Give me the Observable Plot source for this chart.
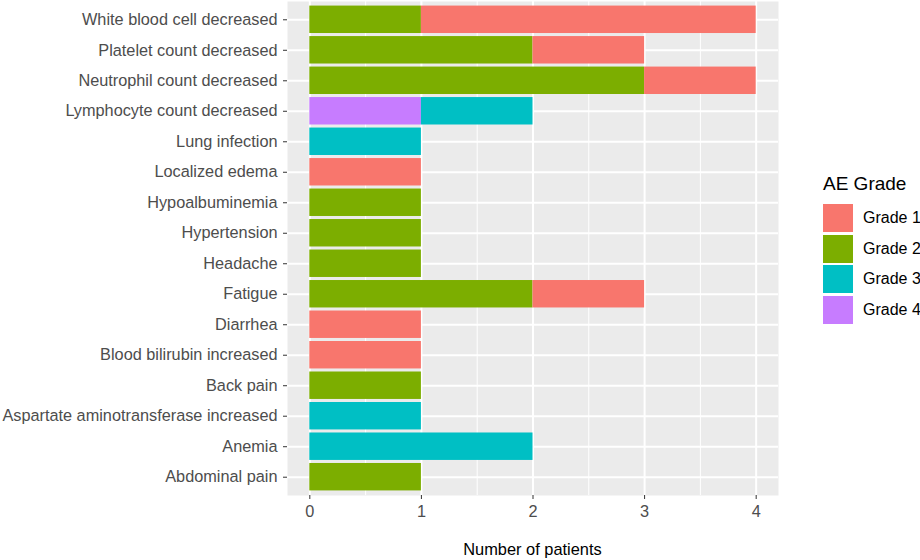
<!DOCTYPE html>
<html>
<head>
<meta charset="utf-8">
<script src="https://cdn.jsdelivr.net/npm/d3@7"></script>
<script src="https://cdn.jsdelivr.net/npm/@observablehq/plot@0.6"></script>
<style>
  html, body { margin: 0; padding: 0; background: white; }
  #wrap { position: relative; width: 920px; height: 560px; font-family: "Liberation Sans", Arial, sans-serif; }
  #xtitle { position: absolute; left: 287px; width: 491px; top: 540px; text-align: center; font-size: 16.4px; color: #000; }
  #legend { position: absolute; left: 823px; top: 173px; width: 97px; color: #000; white-space: nowrap; }
  #legend .ttl { font-size: 19px; margin-bottom: 8px; }
  #legend .row { display: flex; align-items: center; height: 30.5px; }
  #legend .key { width: 30px; height: 28px; margin-right: 10px; flex: none; }
  #legend .lab { font-size: 16px; white-space: nowrap; }
</style>
</head>
<body>
<div id="wrap">
  <div id="chart"></div>
  <div id="xtitle"></div>
  <div id="legend"></div>
</div>
<script>
const categories = [
  "White blood cell decreased",
  "Platelet count decreased",
  "Neutrophil count decreased",
  "Lymphocyte count decreased",
  "Lung infection",
  "Localized edema",
  "Hypoalbuminemia",
  "Hypertension",
  "Headache",
  "Fatigue",
  "Diarrhea",
  "Blood bilirubin increased",
  "Back pain",
  "Aspartate aminotransferase increased",
  "Anemia",
  "Abdominal pain"
];
const grades = ["Grade 1", "Grade 2", "Grade 3", "Grade 4"];
const gradeColors = ["#F8766D", "#7CAE00", "#00BFC4", "#C77CFF"];
const grade1 = [3, 1, 1, 0, 0, 1, 0, 0, 0, 1, 1, 1, 0, 0, 0, 0];
const grade2 = [1, 2, 3, 0, 0, 0, 1, 1, 1, 2, 0, 0, 1, 0, 0, 1];
const grade3 = [0, 0, 0, 1, 1, 0, 0, 0, 0, 0, 0, 0, 0, 1, 2, 0];
const grade4 = [0, 0, 0, 1, 0, 0, 0, 0, 0, 0, 0, 0, 0, 0, 0, 0];
const xTicks = [0, 1, 2, 3, 4];
const xMinor = [0.5, 1.5, 2.5, 3.5];
const xTitle = "Number of patients";
const legendTitle = "AE Grade";

const series = [grade1, grade2, grade3, grade4];
const rows = [];
// stacking order left-to-right: Grade 4, 3, 2, 1 (ggplot default)
for (let g = 3; g >= 0; g--) {
  categories.forEach((c, i) => {
    if (series[g][i] > 0) rows.push({cat: c, n: series[g][i], grade: grades[g]});
  });
}

const chart = Plot.plot({
  width: 920,
  height: 560,
  marginLeft: 287,
  marginRight: 142,
  marginTop: 1,
  marginBottom: 65,
  style: {fontFamily: "'Liberation Sans', Arial, sans-serif", fontSize: "16.3px", background: "white"},
  x: {domain: [-0.2, 4.2]},
  y: {domain: categories, paddingInner: 0.1, paddingOuter: 0.15, round: false},
  color: {domain: grades, range: gradeColors},
  marks: [
    Plot.frame({fill: "#EBEBEB", stroke: null}),
    Plot.gridX(xMinor, {stroke: "white", strokeOpacity: 1, strokeWidth: 1}),
    Plot.gridX(xTicks, {stroke: "white", strokeOpacity: 1, strokeWidth: 2}),
    Plot.gridY({stroke: "white", strokeOpacity: 1, strokeWidth: 2}),
    Plot.barX(rows, {y: "cat", x: "n", fill: "grade"}),
    Plot.axisX({ticks: xTicks, tickFormat: d => String(d), tickSize: 4, tickPadding: 6, stroke: "#333", fill: "#4d4d4d", label: null}),
    Plot.axisY({tickSize: 4, tickPadding: 6, stroke: "#333", fill: "#4d4d4d", label: null})
  ]
});
document.getElementById("chart").appendChild(chart);
document.getElementById("xtitle").textContent = xTitle;

const lg = document.getElementById("legend");
const t = document.createElement("div");
t.className = "ttl"; t.textContent = legendTitle; lg.appendChild(t);
grades.forEach((g, i) => {
  const r = document.createElement("div"); r.className = "row";
  const k = document.createElement("div"); k.className = "key"; k.style.background = gradeColors[i];
  const l = document.createElement("div"); l.className = "lab"; l.textContent = g;
  r.appendChild(k); r.appendChild(l); lg.appendChild(r);
});
</script>
</body>
</html>
